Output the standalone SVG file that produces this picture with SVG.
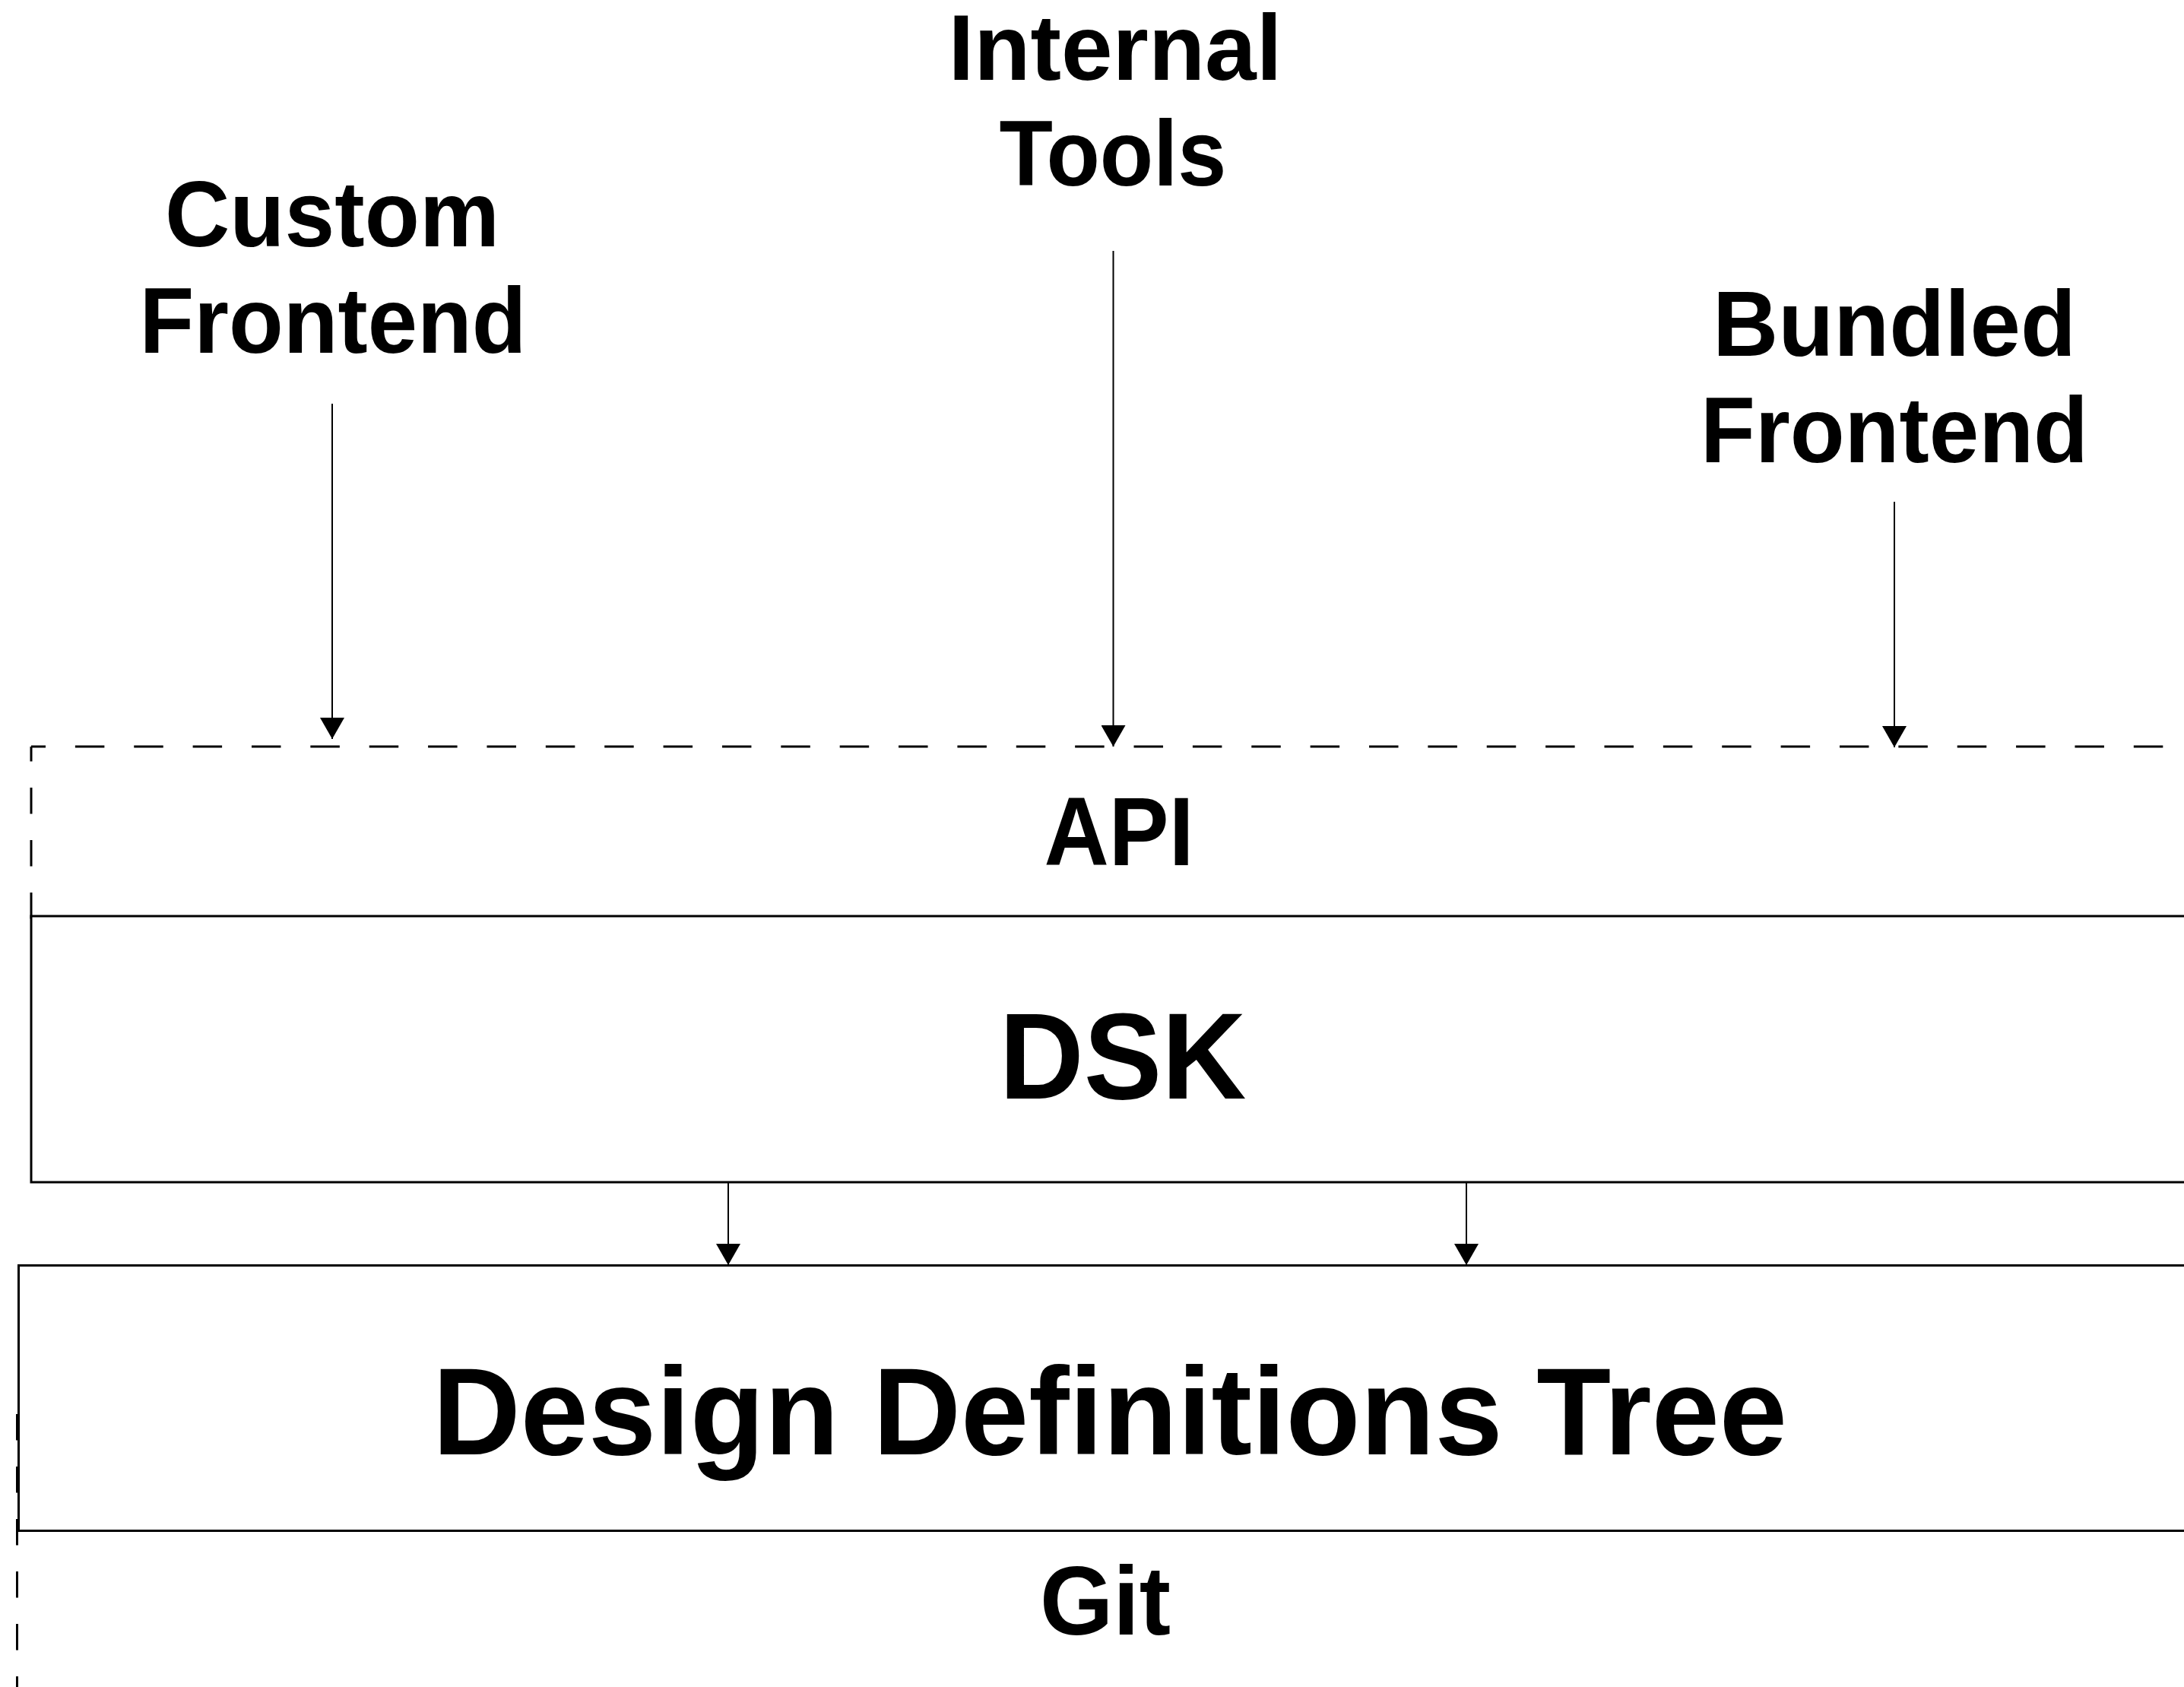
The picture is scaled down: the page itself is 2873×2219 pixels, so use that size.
<svg xmlns="http://www.w3.org/2000/svg" width="2873" height="2219" viewBox="0 0 2873 2219">
  <style>
    .lbl { font-family: "Liberation Sans", Arial, Helvetica, sans-serif; font-weight: bold; fill: #000; text-anchor: middle; }
    .top { font-size: 122px; }
    .box { fill: #fff; stroke: #000; stroke-width: 3; }
    .dashh { fill: none; stroke: #000; stroke-width: 3; stroke-dasharray: 38.5 38.87; }
    .dashv { fill: none; stroke: #000; stroke-width: 3; stroke-dasharray: 34.5 34.5; }
    .conn { fill: none; stroke: #000; stroke-width: 2; }
  </style>
  <defs>
    <marker id="arrow" markerUnits="userSpaceOnUse" viewBox="0 0 28 32" markerWidth="28" markerHeight="32" refX="28" refY="16" orient="auto">
      <path d="M0,0 L28,16 L0,32 Z" fill="#000"/>
    </marker>
  </defs>
  <rect x="0" y="0" width="2873" height="2219" fill="#fff"/>

  <g id="api-layer">
    <path class="dashh" d="M41,982 L2873,982" stroke-dashoffset="19.5"/>
    <path class="dashv" d="M41,982 L41,1210" stroke-dashoffset="15"/>
    <text class="lbl" x="1472" y="1138" font-size="128" textLength="197" lengthAdjust="spacingAndGlyphs">API</text>
  </g>

  <g id="git-layer">
    <path class="dashv" d="M22.5,1860 L22.5,2219"/>
    <text class="lbl" x="1454" y="2150" font-size="128" textLength="172" lengthAdjust="spacingAndGlyphs">Git</text>
  </g>

  <g id="dsk">
    <rect class="box" x="41" y="1205" width="2900" height="350"/>
    <text class="lbl" x="1477" y="1445" font-size="162" textLength="325" lengthAdjust="spacingAndGlyphs">DSK</text>
  </g>

  <g id="design-definitions-tree">
    <rect class="box" x="24.5" y="1664.5" width="2900" height="349"/>
    <text class="lbl" x="1460" y="1913" font-size="163" textLength="1782" lengthAdjust="spacingAndGlyphs">Design Definitions Tree</text>
  </g>

  <g id="custom-frontend">
    <text class="lbl top" x="437" y="324" textLength="440" lengthAdjust="spacingAndGlyphs">Custom</text>
    <text class="lbl top" x="438" y="464" textLength="509" lengthAdjust="spacingAndGlyphs">Frontend</text>
  </g>

  <g id="internal-tools">
    <text class="lbl top" x="1467" y="105" textLength="439" lengthAdjust="spacingAndGlyphs">Internal</text>
    <text class="lbl top" x="1464" y="244" textLength="299" lengthAdjust="spacingAndGlyphs">Tools</text>
  </g>

  <g id="bundled-frontend">
    <text class="lbl top" x="2492" y="468" textLength="478" lengthAdjust="spacingAndGlyphs">Bundled</text>
    <text class="lbl top" x="2492" y="608" textLength="510" lengthAdjust="spacingAndGlyphs">Frontend</text>
  </g>

  <g id="connectors">
    <path class="conn" d="M437,531 L437,972" marker-end="url(#arrow)"/>
    <path class="conn" d="M1464.5,330 L1464.5,982" marker-end="url(#arrow)"/>
    <path class="conn" d="M2492,660 L2492,983" marker-end="url(#arrow)"/>
    <path class="conn" d="M958,1556 L958,1664" marker-end="url(#arrow)"/>
    <path class="conn" d="M1929,1556 L1929,1664" marker-end="url(#arrow)"/>
  </g>
</svg>
